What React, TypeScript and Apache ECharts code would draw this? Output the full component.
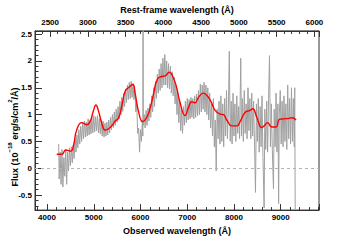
import React, { useEffect, useRef } from "react";
import * as echarts from "echarts";

// Observed spectrum: [wavelength Å, flux]
const specBlue: number[][] = [
  [4250, 0.45], [4260, -0.2], [4280, 0.3], [4300, -0.3], [4320, 0.35], [4340, -0.35], [4360, 0.2],
  [4380, -0.15], [4400, 0.35], [4420, -0.3], [4440, 0.3], [4460, -0.05], [4480, 0.38], [4500, 0.05],
  [4520, 0.4], [4540, 0.1], [4560, 0.42], [4580, 0.18], [4600, 0.55], [4620, 0.3], [4640, 0.62],
  [4660, 0.38], [4680, 0.72], [4700, 0.45], [4720, 0.78], [4740, 0.5], [4760, 0.85], [4780, 0.55],
  [4800, 0.88], [4820, 0.58], [4840, 0.86], [4860, 0.6], [4880, 0.92], [4900, 0.62], [4920, 0.9],
  [4940, 0.64], [4960, 0.95], [4980, 0.66], [5000, 0.98], [5020, 0.68], [5040, 0.96], [5060, 0.7],
  [5080, 0.98], [5100, 0.66], [5120, 0.92], [5140, 0.64], [5160, 0.9], [5180, 0.6], [5200, 0.88],
  [5220, 0.58], [5240, 0.84], [5260, 0.6], [5280, 0.86], [5300, 0.62], [5320, 0.9], [5340, 0.66],
  [5360, 0.95], [5380, 0.72], [5400, 1.0], [5420, 0.76], [5440, 1.05], [5460, 0.8], [5480, 1.1],
  [5500, 0.86], [5520, 1.15], [5540, 0.92], [5560, 1.25], [5580, 1.0], [5600, 1.32], [5620, 1.06],
  [5640, 1.4], [5660, 1.15], [5680, 1.48], [5700, 1.22], [5720, 1.55], [5740, 1.28], [5760, 1.6],
  [5780, 1.3], [5800, 1.62], [5820, 1.32], [5840, 1.58], [5860, 1.28], [5880, 1.45], [5900, 1.05],
  [5920, 1.2], [5940, 0.65], [5960, 0.75], [5980, 0.3], [6000, 0.72], [6020, 0.5], [6040, 0.9],
  [6050, 0.6], [6055, 2.7], [6060, 0.8],
];
const specMid: number[][] = [
  [6080, 1.0], [6100, 0.75], [6120, 1.08], [6140, 0.8], [6160, 1.12], [6180, 0.88], [6200, 1.2],
  [6220, 0.95], [6240, 1.35], [6260, 1.05], [6280, 1.5], [6300, 1.15], [6320, 1.62], [6340, 1.3],
  [6360, 1.75], [6380, 1.4], [6400, 1.85], [6420, 1.45], [6440, 1.95], [6460, 1.5], [6480, 2.05],
  [6500, 1.55], [6520, 2.12], [6540, 1.55], [6560, 2.0], [6580, 1.5], [6600, 1.95], [6620, 1.48],
  [6640, 1.9], [6660, 1.4], [6680, 1.8], [6700, 1.35], [6720, 1.7], [6740, 1.2], [6760, 1.55],
  [6780, 1.0], [6800, 1.4], [6820, 0.85], [6840, 1.25], [6860, 0.7], [6880, 1.1], [6900, 0.65],
  [6920, 1.15], [6940, 0.8], [6960, 1.25], [6980, 0.85], [7000, 1.3], [7020, 0.9], [7040, 1.28],
  [7060, 0.92], [7080, 1.32], [7100, 0.95], [7120, 1.3], [7140, 0.92], [7160, 1.35], [7180, 0.95],
  [7200, 1.38], [7220, 0.98], [7240, 1.45], [7260, 1.0], [7280, 1.57], [7300, 1.05], [7320, 1.55],
  [7340, 1.1], [7360, 1.6], [7380, 1.05], [7400, 1.55], [7420, 1.0], [7440, 1.5], [7460, 0.9],
  [7480, 1.4], [7500, 0.75],
];
const specRed: number[][] = [
  [7520, 1.2], [7540, 0.6], [7560, 1.3], [7580, 0.4], [7600, 0.9], [7620, -0.05], [7640, 1.1],
  [7660, 0.55], [7680, 1.25], [7700, 0.45], [7720, 1.35], [7740, 0.5], [7760, 1.2], [7780, 0.4],
  [7800, 1.3], [7820, 0.6], [7840, 1.45], [7860, 0.55], [7880, 1.1], [7900, 2.18], [7920, 0.5],
  [7940, 1.25], [7960, 0.45], [7980, 1.4], [8000, 0.6], [8020, 1.2], [8040, 0.5], [8060, 1.35],
  [8080, 0.65], [8100, 1.15], [8120, 0.55], [8145, 2.05], [8160, 0.6], [8180, 1.3], [8200, 0.5],
  [8220, 1.45], [8240, 0.65], [8260, 1.2], [8280, 0.55], [8300, 1.5], [8320, 0.7], [8340, 1.3],
  [8360, 0.55], [8380, 1.4], [8400, 0.6], [8420, 1.25], [8440, 0.45], [8460, -0.45], [8480, 1.2],
  [8500, 0.5], [8520, 1.3], [8540, 0.3], [8560, 1.15], [8580, 0.4], [8600, 1.35], [8620, 0.2],
  [8645, -0.74], [8660, 1.1], [8680, 0.35], [8700, 1.25], [8720, 0.3], [8740, 1.3], [8760, 2.1],
  [8780, 0.4], [8800, 1.2], [8820, 0.35], [8845, -0.38], [8860, 1.1], [8880, 0.4], [8900, 1.4],
  [8920, 0.3], [8940, 1.2], [8955, -0.66], [8970, 1.0], [8990, 1.45], [9010, 0.45], [9030, 1.25],
  [9050, 0.4], [9070, 1.35], [9090, 0.5], [9110, 1.2], [9130, 0.35], [9150, 1.55], [9170, 0.55],
  [9190, 1.3], [9210, 0.45], [9230, 1.5], [9250, 0.5], [9270, 1.3], [9290, 0.4], [9300, 1.5],
  [9310, -0.78],
];

// Model (smooth fit)
const modelWave: number[] = [
  4209, 4316, 4400, 4509, 4565, 4637, 4744, 4851, 4922, 4993, 5045, 5100, 5172, 5250, 5386, 5457,
  5527, 5600, 5670, 5741, 5835, 5884, 5955, 6049, 6135, 6205, 6276, 6362, 6455, 6526, 6618, 6670,
  6762, 6847, 6954, 7025, 7098, 7168, 7239, 7346, 7418, 7504, 7596, 7703, 7774, 7847, 7954, 8061,
  8131, 8238, 8345, 8403, 8488, 8595, 8645, 8715, 8809, 8901, 8972, 9057, 9164, 9237, 9329,
];
const modelFlux: number[] = [
  0.26, 0.26, 0.34, 0.32, 0.42, 0.72, 0.85, 0.81, 0.87, 1.07, 1.18, 1.07, 0.84, 0.71, 0.79, 0.88,
  0.93, 1.16, 1.43, 1.5, 1.56, 1.4, 1.07, 0.87, 0.95, 1.12, 1.37, 1.66, 1.71, 1.72, 1.79, 1.75,
  1.54, 1.22, 0.98, 1.13, 1.24, 1.22, 1.32, 1.4, 1.36, 1.25, 1.08, 1.01, 1.0, 0.9, 0.79, 0.79,
  0.87, 1.04, 1.08, 1.11, 0.95, 0.76, 0.79, 0.85, 0.77, 0.77, 0.91, 0.92, 0.93, 0.94, 0.9,
];

const FONT = "Liberation Sans, Arial, Helvetica, sans-serif";
const AX = "#333";

export default function App() {
  const ref = useRef<HTMLDivElement>(null);
  useEffect(() => {
    if (!ref.current) return;
    const chart = echarts.init(ref.current, undefined, { renderer: "svg" });
    const spec = [...specBlue, ...specMid, ...specRed];
    const model = modelWave.map((w, i) => [w, modelFlux[i]]);
    const tickLabel = { fontFamily: FONT, fontSize: 8, fontWeight: "bold" as const, color: "#000" };
    chart.setOption({
      animation: false,
      backgroundColor: "#fff",
      grid: { left: 35, right: 36, top: 26, bottom: 25, show: true, borderColor: AX, borderWidth: 1, backgroundColor: "transparent" },
      xAxis: [
        {
          type: "value", position: "bottom", min: 3743, max: 9819, splitNumber: 5,
          name: "Observed wavelength (Å)", nameLocation: "middle", nameGap: 11,
          nameTextStyle: { fontFamily: FONT, fontSize: 9, fontWeight: "bold", color: "#000" },
          axisLine: { show: true, onZero: false, lineStyle: { color: AX } },
          axisTick: { show: true, inside: true, length: 6, lineStyle: { color: AX } },
          minorTick: { show: true, splitNumber: 5, length: 3, lineStyle: { color: AX } },
          axisLabel: { ...tickLabel, margin: 3, formatter: (v: number) => (Math.abs(v % 1000) < 1e-6 ? String(v) : "") },
          splitLine: { show: false },
        },
        {
          type: "value", position: "top", min: 2300, max: 6061, splitNumber: 8,
          name: "Rest-frame wavelength (Å)", nameLocation: "middle", nameGap: 15,
          nameTextStyle: { fontFamily: FONT, fontSize: 9, fontWeight: "bold", color: "#000" },
          axisLine: { show: true, onZero: false, lineStyle: { color: AX } },
          axisTick: { show: true, inside: true, length: 6, lineStyle: { color: AX } },
          minorTick: { show: true, splitNumber: 5, length: 3, lineStyle: { color: AX } },
          axisLabel: { ...tickLabel, margin: 4, formatter: (v: number) => (Math.abs(v % 500) < 1e-6 ? String(v) : "") },
          splitLine: { show: false },
        },
      ],
      yAxis: [
        {
          type: "value", min: -0.78, max: 2.56, splitNumber: 5,
          axisLine: { show: true, onZero: false, lineStyle: { color: AX } },
          axisTick: { show: true, inside: true, length: 7, lineStyle: { color: AX } },
          minorTick: { show: true, splitNumber: 5, length: 3.5, lineStyle: { color: AX } },
          axisLabel: {
            ...tickLabel, margin: 3,
            formatter: (v: number) => (Math.abs(v * 2 - Math.round(v * 2)) < 1e-6 ? String(Math.round(v * 2) / 2) : ""),
          },
          splitLine: { show: false },
        },
      ],
      graphic: [
        {
          type: "text", x: 13, y: 137, rotation: Math.PI / 2,
          style: {
            text: "{n|Flux (10}{s|−18}{n| erg/s/cm}{s|2}{n|/Å)}",
            align: "center", verticalAlign: "middle",
            rich: {
              n: { fontFamily: FONT, fontSize: 9, fontWeight: "bold", fill: "#000", lineHeight: 12, verticalAlign: "bottom" },
              s: { fontFamily: FONT, fontSize: 6, fontWeight: "bold", fill: "#000", lineHeight: 12, verticalAlign: "top" },
            },
          },
        },
      ],
      series: [
        {
          type: "line", data: spec, showSymbol: false, symbol: "none",
          lineStyle: { color: "#a0a0a0", width: 1 }, z: 2,
          markLine: {
            silent: true, symbol: "none", label: { show: false },
            lineStyle: { color: "#b4b4b4", type: [3, 3], width: 1 },
            data: [{ yAxis: 0 }],
          },
        },
        {
          type: "line", data: model, showSymbol: false, symbol: "none", smooth: 0.5,
          lineStyle: { color: "#ff0000", width: 1.4 }, z: 3,
        },
      ],
    });
    return () => chart.dispose();
  }, []);
  return <div ref={ref} style={{ position: "fixed", left: 0, top: 0, width: 355, height: 240 }} />;
}
